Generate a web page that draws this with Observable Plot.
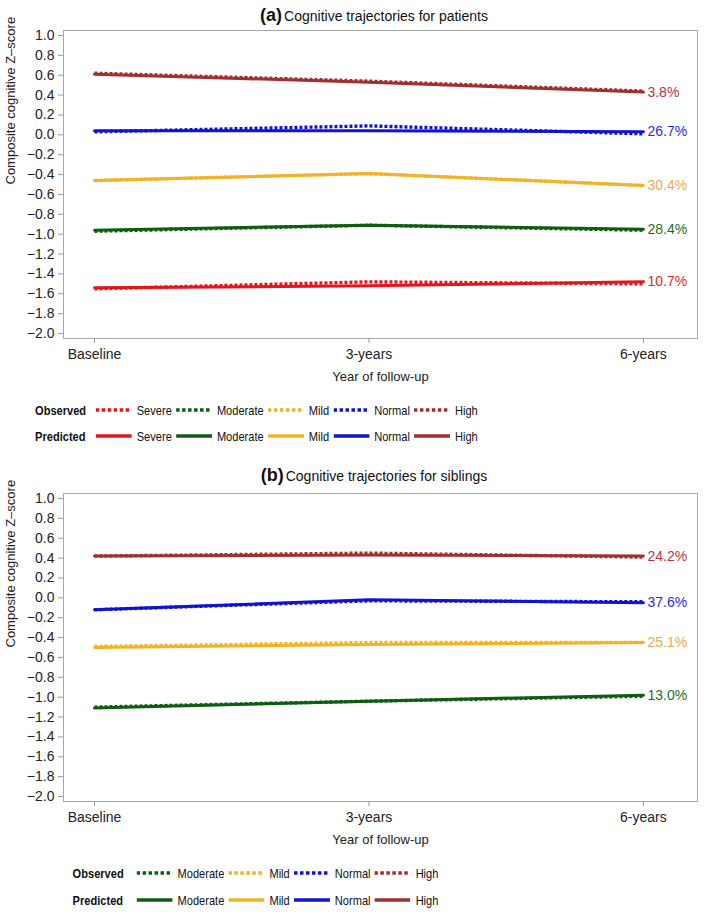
<!DOCTYPE html>
<html><head><meta charset="utf-8">
<script src="https://cdn.jsdelivr.net/npm/d3@7"></script>
<script src="https://cdn.jsdelivr.net/npm/@observablehq/plot@0.6"></script>
<style>
body{margin:0;background:#fff;font-family:"Liberation Sans",Arial,sans-serif;color:#111;}
#root{position:relative;width:709px;height:916px;overflow:hidden;}
.title{position:absolute;left:40px;width:668px;text-align:center;white-space:nowrap;line-height:20px;height:20px;}
.title b{font-size:18px;}
.title span{font-size:14px;margin-left:2px;}
.plot{position:absolute;left:0;}
.lrow{position:absolute;left:0;width:516px;display:flex;justify-content:center;align-items:center;height:20px;}
.lin{display:flex;align-items:center;transform:scaleX(0.82);transform-origin:center;
  font-family:"Liberation Sans",Arial,sans-serif;font-size:13.5px;white-space:nowrap;color:#111;}
.lin .rl{font-weight:bold;display:inline-block;}
.lin svg{display:block;}
.lin .lt{margin-left:6px;margin-right:5px;}
</style></head>
<body><div id="root"></div>
<script>
// ---------- data ----------
const timeLabels = ["Baseline", "3-years", "6-years"];
const timeIndex = [0, 1, 2];
const yTicks = [1.0, 0.8, 0.6, 0.4, 0.2, 0.0, -0.2, -0.4, -0.6, -0.8, -1.0, -1.2, -1.4, -1.6, -1.8, -2.0];

const patientGroups = ["Severe", "Moderate", "Mild", "Normal", "High"];
const patientPredicted = [
  [-1.54, -1.52, -1.48],
  [-0.96, -0.91, -0.95],
  [-0.46, -0.39, -0.51],
  [0.04, 0.04, 0.03],
  [0.61, 0.53, 0.43]
];
const patientObserved = [
  [-1.55, -1.48, -1.50],
  [-0.97, -0.91, -0.96],
  [-0.46, -0.39, -0.51],
  [0.03, 0.09, 0.01],
  [0.62, 0.54, 0.44]
];
const patientPercent = ["10.7%", "28.4%", "30.4%", "26.7%", "3.8%"];

const siblingGroups = ["Moderate", "Mild", "Normal", "High"];
const siblingPredicted = [
  [-1.11, -1.04, -0.98],
  [-0.50, -0.47, -0.45],
  [-0.12, -0.02, -0.05],
  [0.42, 0.43, 0.42]
];
const siblingObserved = [
  [-1.10, -1.04, -0.99],
  [-0.49, -0.45, -0.45],
  [-0.12, -0.03, -0.04],
  [0.42, 0.45, 0.41]
];
const siblingPercent = ["13.0%", "25.1%", "37.6%", "24.2%"];

const groupColors = {Severe: "#e6141c", Moderate: "#0d5e12", Mild: "#f2b324", Normal: "#1212d4", High: "#a22f2f"};
const labelColors = {Severe: "#e32a2a", Moderate: "#1f6e22", Mild: "#f0a94a", Normal: "#2a2ae0", High: "#b03844"};

const yTitle = "Composite cognitive Z\u2013score";
const xTitle = "Year of follow-up";

// ---------- drawing ----------
const root = document.getElementById("root");
const fmt = d3.format(".1f");

function addTitle(letter, text, centerY) {
  const d = document.createElement("div");
  d.className = "title";
  d.style.top = (centerY - 10) + "px";
  d.innerHTML = `<b>(${letter})</b><span>${text}</span>`;
  root.appendChild(d);
}

function makePanel(groups, pred, obs, pct, top) {
  const marks = [Plot.frame({stroke: "#a8a8a8"})];
  marks.push(Plot.axisY({ticks: yTicks, tickFormat: d => fmt(d), tickSize: 5, tickPadding: 4, fontSize: 14,
    stroke: "#999", fill: "#222", label: null}));
  marks.push(Plot.axisX({ticks: timeIndex, tickFormat: i => timeLabels[i], tickSize: 5, tickPadding: 6, fontSize: 14,
    stroke: "#999", fill: "#222", label: null}));
  groups.forEach((g, gi) => {
    const p = timeIndex.map(t => ({t, v: pred[gi][t]}));
    marks.push(Plot.line(p, {x: "t", y: "v", stroke: groupColors[g], strokeWidth: 3}));
  });
  groups.forEach((g, gi) => {
    const o = timeIndex.map(t => ({t, v: obs[gi][t]}));
    marks.push(Plot.line(o, {x: "t", y: "v", stroke: groupColors[g], strokeWidth: 3.4, strokeDasharray: "3,2", strokeLinecap: "butt"}));
  });
  groups.forEach((g, gi) => {
    marks.push(Plot.text([{t: 2, v: pred[gi][2], s: pct[gi]}], {x: "t", y: "v", text: "s", dx: 4, textAnchor: "start",
      fill: labelColors[g], fontSize: 14}));
  });
  marks.push(Plot.text([xTitle], {text: d => d, frameAnchor: "bottom", dy: 42, fontSize: 13, fill: "#222"}));
  marks.push(Plot.text([yTitle], {text: d => d, frameAnchor: "left", dx: -53, rotate: -90, fontSize: 13, fill: "#222"}));

  const svg = Plot.plot({
    width: 709, height: 368,
    marginTop: 8, marginBottom: 52, marginLeft: 63, marginRight: 12,
    x: {domain: [-0.113, 2.197]},
    y: {domain: [-2.05, 1.05]},
    style: {fontFamily: "Liberation Sans, Arial, sans-serif", background: "transparent", overflow: "visible"},
    marks
  });
  const wrap = document.createElement("div");
  wrap.className = "plot";
  wrap.style.top = top + "px";
  wrap.appendChild(svg);
  root.appendChild(wrap);
}

function addLegend(groups, y1, y2, labelWidth) {
  [["Observed", true, y1], ["Predicted", false, y2]].forEach(([name, dotted, cy]) => {
    const row = document.createElement("div");
    row.className = "lrow";
    row.style.top = (cy - 10) + "px";
    let html = `<div class="lin"><span class="rl" style="width:${labelWidth}px">${name}</span>`;
    groups.forEach(g => {
      const dash = dotted ? `stroke-dasharray="4.3,3"` : "";
      html += `<svg width="44" height="6"><line x1="0" x2="44" y1="3" y2="3" stroke="${groupColors[g]}" stroke-width="3.5" ${dash}/></svg><span class="lt">${g}</span>`;
    });
    html += `</div>`;
    row.innerHTML = html;
    root.appendChild(row);
  });
}

addTitle("a", "Cognitive trajectories for patients", 15);
makePanel(patientGroups, patientPredicted, patientObserved, patientPercent, 22);
addLegend(patientGroups, 410, 436, 74);

addTitle("b", "Cognitive trajectories for siblings", 475);
makePanel(siblingGroups, siblingPredicted, siblingObserved, siblingPercent, 485);
addLegend(siblingGroups, 873, 900, 78);
</script>
</body></html>
